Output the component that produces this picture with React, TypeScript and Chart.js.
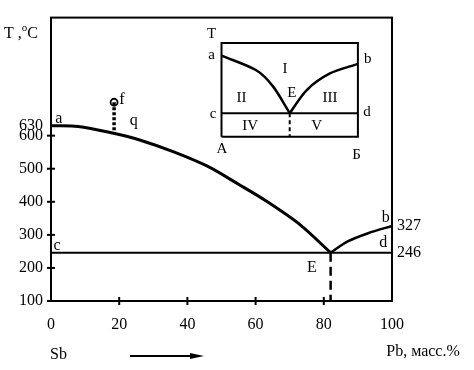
import React, { useEffect, useRef } from "react";
import { Chart, registerables } from "chart.js";

Chart.register(...registerables);

// ---- data (composition in mass % Pb, temperature in °C) ----
const xTicks = [0, 20, 40, 60, 80, 100];
const yTicksLeft = [100, 200, 300, 400, 500, 600, 630];
const yTicksRight = [246, 327];
const crossTicksY = [100, 200, 300, 400, 500, 600];
const crossTicksX = [20, 40, 60, 80];

const liquidusSb = [
  { x: 0, y: 630 }, { x: 8, y: 628 }, { x: 18, y: 608 }, { x: 26, y: 587 },
  { x: 36, y: 551 }, { x: 46, y: 507 }, { x: 55, y: 453 }, { x: 63, y: 403 },
  { x: 73, y: 331 }, { x: 82, y: 246 },
];
const liquidusPb = [{ x: 82, y: 246 }, { x: 87, y: 280 }, { x: 93, y: 305 }, { x: 100, y: 327 }];
const eutecticLine = [{ x: 0, y: 246 }, { x: 100, y: 246 }];
const eutecticVertical = [{ x: 82, y: 246 }, { x: 82, y: 100 }];
const alloyF = [{ x: 18.5, y: 701 }, { x: 18.5, y: 609 }];
const pointF = [{ x: 18.5, y: 701 }];

// inset (schematic), placed in main-chart coordinates
const insetBox = [{ x: 50, y: 597 }, { x: 50, y: 880 }, { x: 90, y: 880 }, { x: 90, y: 597 }, { x: 50, y: 597 }];
const insetEutectic = [{ x: 50, y: 668 }, { x: 90, y: 668 }];
const insetLeft = [{ x: 50, y: 842 }, { x: 60.3, y: 797 }, { x: 65.1, y: 749 }, { x: 70, y: 668 }];
const insetRight = [{ x: 70, y: 668 }, { x: 75, y: 738 }, { x: 81.8, y: 788 }, { x: 90, y: 817 }];
const insetVertical = [{ x: 70, y: 668 }, { x: 70, y: 597 }];

const mainLabels = [
  { t: "a", x: 2.3, y: 651 }, { t: "f", x: 20.8, y: 707 }, { t: "q", x: 24.3, y: 645 },
  { t: "c", x: 1.8, y: 267 }, { t: "b", x: 98.2, y: 353 }, { t: "d", x: 97.4, y: 276 },
  { t: "E", x: 76.5, y: 201 },
];
const insetLabels = [
  { t: "T", x: 47.1, y: 907 }, { t: "a", x: 47.1, y: 845 }, { t: "b", x: 92.9, y: 832 },
  { t: "I", x: 68.6, y: 802 }, { t: "II", x: 55.9, y: 713 }, { t: "E", x: 70.6, y: 728 },
  { t: "III", x: 81.8, y: 713 }, { t: "c", x: 47.5, y: 665 }, { t: "d", x: 92.7, y: 671 },
  { t: "IV", x: 58.4, y: 630 }, { t: "V", x: 77.9, y: 630 }, { t: "A", x: 50.1, y: 558 },
  { t: "Б", x: 89.6, y: 540 },
];

const FONT = "'Liberation Serif', 'DejaVu Serif', serif";

const line = (data: any[], width: number, dash: number[] = [], tension = 0) => ({
  data,
  borderColor: "#000",
  borderWidth: width,
  borderDash: dash,
  pointRadius: 0,
  tension,
  fill: false,
});

const decorPlugin = {
  id: "decor",
  beforeDatasetsDraw(chart: any) {
    const { ctx, chartArea: a, scales } = chart;
    ctx.save();
    ctx.strokeStyle = "#000";
    ctx.lineWidth = 2;
    ctx.strokeRect(a.left, a.top, a.right - a.left, a.bottom - a.top);
    crossTicksY.forEach((v) => {
      const p = scales.y.getPixelForValue(v);
      ctx.beginPath();
      ctx.moveTo(a.left - 4, p);
      ctx.lineTo(a.left + 4, p);
      ctx.stroke();
    });
    crossTicksX.forEach((v) => {
      const p = scales.x.getPixelForValue(v);
      ctx.beginPath();
      ctx.moveTo(p, a.bottom - 4);
      ctx.lineTo(p, a.bottom + 4);
      ctx.stroke();
    });
    ctx.restore();
  },
  afterDraw(chart: any) {
    const { ctx, scales } = chart;
    ctx.save();
    ctx.fillStyle = "#000";
    ctx.textAlign = "center";
    ctx.textBaseline = "middle";
    ctx.font = `16px ${FONT}`;
    mainLabels.forEach((l) => ctx.fillText(l.t, scales.x.getPixelForValue(l.x), scales.y.getPixelForValue(l.y)));
    ctx.font = `15px ${FONT}`;
    insetLabels.forEach((l) => ctx.fillText(l.t, scales.x.getPixelForValue(l.x), scales.y.getPixelForValue(l.y)));
    // axis title T, °C
    ctx.textAlign = "left";
    ctx.font = `16px ${FONT}`;
    ctx.fillText("T ,", 4, 34);
    const w1 = ctx.measureText("T ,").width;
    ctx.font = `11px ${FONT}`;
    ctx.fillText("o", 4 + w1, 28);
    const w2 = ctx.measureText("o").width;
    ctx.font = `16px ${FONT}`;
    ctx.fillText("C", 4 + w1 + w2, 34);
    // bottom captions
    ctx.fillText("Sb", 50, 355);
    ctx.textAlign = "center";
    ctx.fillText("Pb, масс.%", 423, 352);
    // arrow
    ctx.strokeStyle = "#000";
    ctx.lineWidth = 2;
    ctx.beginPath();
    ctx.moveTo(130, 356);
    ctx.lineTo(196, 356);
    ctx.stroke();
    ctx.beginPath();
    ctx.moveTo(204, 356);
    ctx.lineTo(190, 353);
    ctx.lineTo(190, 359);
    ctx.closePath();
    ctx.fill();
    ctx.restore();
  },
};

export default function App() {
  const ref = useRef<HTMLCanvasElement>(null);
  useEffect(() => {
    if (!ref.current) return;
    const chart = new Chart(ref.current, {
      type: "line",
      data: {
        datasets: [
          line(liquidusSb, 3, [], 0.3),
          line(liquidusPb, 2.5, [], 0.3),
          line(eutecticLine, 2),
          line(eutecticVertical, 2.5, [9, 5]),
          line(alloyF, 3.5, [3, 2]),
          {
            data: pointF,
            showLine: false,
            pointRadius: 3.5,
            pointBorderWidth: 1.8,
            pointBorderColor: "#000",
            pointBackgroundColor: "#fff",
          },
          line(insetBox, 2),
          line(insetEutectic, 2),
          line(insetLeft, 2.5, [], 0.3),
          line(insetRight, 2.5, [], 0.3),
          line(insetVertical, 2, [4, 3]),
        ] as any,
      },
      options: {
        animation: false,
        responsive: false,
        layout: { padding: { top: 13, left: 0, right: 0, bottom: 0 } },
        plugins: { legend: { display: false }, tooltip: { enabled: false } },
        scales: {
          x: {
            type: "linear",
            min: 0,
            max: 100,
            afterBuildTicks: (s: any) => { s.ticks = xTicks.map((v) => ({ value: v })); },
            afterFit: (s: any) => { s.height = 69; },
            grid: { display: false, drawTicks: false },
            border: { display: false },
            ticks: { padding: 14, color: "#000", font: { family: FONT, size: 16 }, autoSkip: false, maxRotation: 0 },
          },
          y: {
            type: "linear",
            position: "left",
            min: 100,
            max: 957,
            afterBuildTicks: (s: any) => { s.ticks = yTicksLeft.map((v) => ({ value: v })); },
            afterFit: (s: any) => { s.width = 51; },
            grid: { display: false, drawTicks: false },
            border: { display: false },
            ticks: { padding: 8, color: "#000", font: { family: FONT, size: 16 }, autoSkip: false },
          },
          y2: {
            type: "linear",
            position: "right",
            min: 100,
            max: 957,
            afterBuildTicks: (s: any) => { s.ticks = yTicksRight.map((v) => ({ value: v })); },
            afterFit: (s: any) => { s.width = 82; },
            grid: { display: false, drawTicks: false },
            border: { display: false },
            ticks: { padding: 5, color: "#000", font: { family: FONT, size: 16 }, autoSkip: false },
          },
        },
      } as any,
      plugins: [decorPlugin],
    });
    return () => chart.destroy();
  }, []);
  return (
    <div style={{ position: "absolute", left: 0, top: 0, width: 474, height: 370, background: "#fff" }}>
      <canvas ref={ref} width={474} height={370} />
    </div>
  );
}
